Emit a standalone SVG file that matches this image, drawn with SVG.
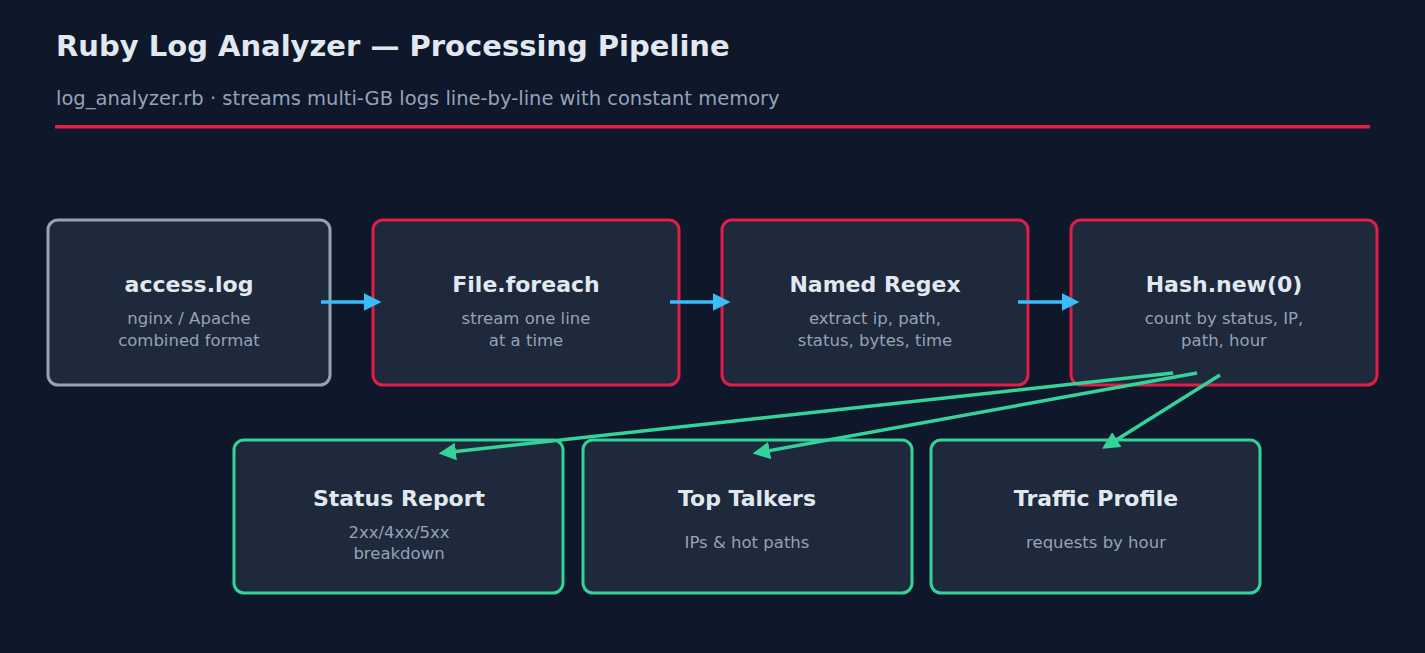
<svg xmlns="http://www.w3.org/2000/svg" width="1425" height="653" viewBox="0 0 1425 653">
<style>
.t{font-family:"DejaVu Sans","Noto Sans",sans-serif;font-weight:bold;font-size:22px;fill:#e2e8f0;text-anchor:middle}
.s{font-family:"DejaVu Sans","Noto Sans",sans-serif;font-size:16.5px;fill:#94a3b8;text-anchor:middle}
.b{fill:#1e293b;stroke-width:3}
.red{stroke:#e11d48}.gray{stroke:#94a3b8}.grn{stroke:#34d399}
.ab{stroke:#38bdf8;stroke-width:3.5;fill:none}
.ag{stroke:#34d399;stroke-width:3.5;fill:none}
</style>
<defs>
<marker id="mb" viewBox="0 0 10 10" refX="8" refY="5" markerWidth="5" markerHeight="5" orient="auto" markerUnits="strokeWidth"><path d="M0,0L10,5L0,10z" fill="#38bdf8"/></marker>
<marker id="mg" viewBox="0 0 10 10" refX="8" refY="5" markerWidth="5" markerHeight="5" orient="auto" markerUnits="strokeWidth"><path d="M0,0L10,5L0,10z" fill="#34d399"/></marker>
</defs>
<rect width="1425" height="653" fill="#0f172a"/>
<text x="56" y="56" font-family="DejaVu Sans,sans-serif" font-weight="bold" font-size="29" fill="#e2e8f0">Ruby Log Analyzer — Processing Pipeline</text>
<text x="56" y="105" font-family="DejaVu Sans,sans-serif" font-size="19.5" fill="#94a3b8">log_analyzer.rb  ·  streams multi-GB logs line-by-line with constant memory</text>
<rect x="55" y="125" width="1315" height="3.5" fill="#e11d48"/>
<g id="n1"><rect class="b gray" x="48" y="220" width="282" height="165" rx="10"/><text class="t" x="189" y="292">access.log</text><text class="s" x="189" y="324">nginx / Apache</text><text class="s" x="189" y="346">combined format</text></g>
<g id="n2"><rect class="b red" x="373" y="220" width="306" height="165" rx="10"/><text class="t" x="526" y="292">File.foreach</text><text class="s" x="526" y="324">stream one line</text><text class="s" x="526" y="346">at a time</text></g>
<g id="n3"><rect class="b red" x="722" y="220" width="306" height="165" rx="10"/><text class="t" x="875" y="292">Named Regex</text><text class="s" x="875" y="324">extract ip, path,</text><text class="s" x="875" y="346">status, bytes, time</text></g>
<g id="n4"><rect class="b red" x="1071" y="220" width="306" height="165" rx="10"/><text class="t" x="1224" y="292">Hash.new(0)</text><text class="s" x="1224" y="324">count by status, IP,</text><text class="s" x="1224" y="346">path, hour</text></g>
<g id="n5"><rect class="b grn" x="234" y="440" width="329" height="153" rx="10"/><text class="t" x="399" y="506">Status Report</text><text class="s" x="399" y="538">2xx/4xx/5xx</text><text class="s" x="399" y="559">breakdown</text></g>
<g id="n6"><rect class="b grn" x="583" y="440" width="329" height="153" rx="10"/><text class="t" x="747" y="506">Top Talkers</text><text class="s" x="747" y="548">IPs &amp; hot paths</text></g>
<g id="n7"><rect class="b grn" x="931" y="440" width="329" height="153" rx="10"/><text class="t" x="1096" y="506">Traffic Profile</text><text class="s" x="1096" y="548">requests by hour</text></g>
<g id="connectors">
<line class="ab" x1="321" y1="302" x2="378" y2="302" marker-end="url(#mb)"/>
<line class="ab" x1="670" y1="302" x2="727" y2="302" marker-end="url(#mb)"/>
<line class="ab" x1="1018" y1="302" x2="1076" y2="302" marker-end="url(#mb)"/>
<line class="ag" x1="1173" y1="373" x2="442" y2="453" marker-end="url(#mg)"/>
<line class="ag" x1="1197" y1="373" x2="756" y2="453" marker-end="url(#mg)"/>
<line class="ag" x1="1220" y1="375" x2="1105" y2="447" marker-end="url(#mg)"/>
</g>
</svg>
